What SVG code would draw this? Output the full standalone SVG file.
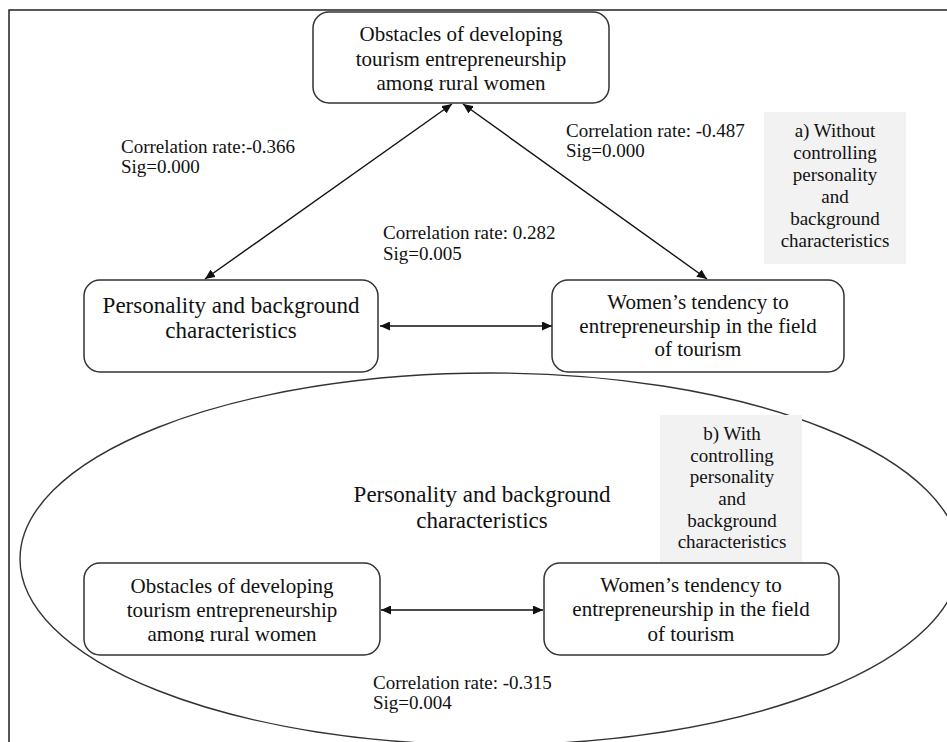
<svg xmlns="http://www.w3.org/2000/svg" width="947" height="742" viewBox="0 0 947 742">
<style>
.node{fill:#fff;stroke:#333;stroke-width:1.5}
.t{font-family:"Liberation Serif","Times New Roman",serif;font-size:21px;fill:#111;text-anchor:middle}
.t23{font-size:23px}
.lbl{font-family:"Liberation Serif","Times New Roman",serif;font-size:19px;fill:#111}
.note{fill:#f2f2f2;stroke:none}
.nt{font-family:"Liberation Serif","Times New Roman",serif;font-size:19px;fill:#111;text-anchor:middle}
.conn{stroke:#111;stroke-width:1.4;fill:none;marker-start:url(#ah);marker-end:url(#ah)}
</style>
<defs>
<marker id="ah" markerUnits="userSpaceOnUse" markerWidth="11" markerHeight="9" refX="10" refY="4.5" orient="auto-start-reverse">
<path d="M0,0 L10,4.5 L0,9 z" fill="#111"/>
</marker>
<clipPath id="c1"><rect x="313" y="12" width="296" height="79"/></clipPath>
<clipPath id="c2"><rect x="84" y="563" width="296" height="79"/></clipPath>
</defs>
<rect width="947" height="742" fill="#fff"/>
<path d="M947,10 H9 V742" fill="none" stroke="#222" stroke-width="1.5"/>

<g id="ellipse-context">
<ellipse cx="490" cy="559" rx="470" ry="186" fill="none" stroke="#333" stroke-width="1.4"/>
<text class="t t23" x="482" y="502">Personality and background</text>
<text class="t t23" x="482" y="528">characteristics</text>
</g>

<g id="connectors">
<line class="conn" x1="452" y1="104" x2="205" y2="279"/>
<line class="conn" x1="463" y1="104" x2="707" y2="279"/>
<line class="conn" x1="380" y1="326" x2="552" y2="326"/>
<line class="conn" x1="381" y1="610" x2="543" y2="610"/>
</g>

<g id="labels">
<text class="lbl" x="121" y="153">Correlation rate:-0.366</text>
<text class="lbl" x="121" y="173">Sig=0.000</text>
<text class="lbl" x="566" y="137">Correlation rate: -0.487</text>
<text class="lbl" x="566" y="157">Sig=0.000</text>
<text class="lbl" x="383" y="239">Correlation rate: 0.282</text>
<text class="lbl" x="383" y="260">Sig=0.005</text>
<text class="lbl" x="373" y="689">Correlation rate: -0.315</text>
<text class="lbl" x="373" y="709">Sig=0.004</text>
</g>

<g id="node-obstacles-top">
<rect class="node" x="313" y="12" width="296" height="91" rx="16"/>
<g clip-path="url(#c1)">
<text class="t" x="461" y="41">Obstacles of developing</text>
<text class="t" x="461" y="66">tourism entrepreneurship</text>
<text class="t" x="461" y="90">among rural women</text>
</g>
</g>

<g id="node-personality-top">
<rect class="node" x="84" y="280" width="294" height="92" rx="16"/>
<text class="t t23" x="231" y="313">Personality and background</text>
<text class="t t23" x="231" y="338">characteristics</text>
</g>

<g id="node-tendency-top">
<rect class="node" x="552" y="280" width="292" height="92" rx="16"/>
<text class="t" x="698" y="309">Women’s tendency to</text>
<text class="t" x="698" y="333">entrepreneurship in the field</text>
<text class="t" x="698" y="356">of tourism</text>
</g>

<g id="note-a">
<rect class="note" x="764" y="112" width="142" height="152"/>
<text class="nt" x="835" y="137">a) Without</text>
<text class="nt" x="835" y="159">controlling</text>
<text class="nt" x="835" y="181">personality</text>
<text class="nt" x="835" y="203">and</text>
<text class="nt" x="835" y="225">background</text>
<text class="nt" x="835" y="247">characteristics</text>
</g>

<g id="note-b">
<rect class="note" x="660" y="415" width="142" height="147"/>
<text class="nt" x="732" y="440">b) With</text>
<text class="nt" x="732" y="462">controlling</text>
<text class="nt" x="732" y="483">personality</text>
<text class="nt" x="732" y="505">and</text>
<text class="nt" x="732" y="527">background</text>
<text class="nt" x="732" y="548">characteristics</text>
</g>

<g id="node-obstacles-bottom">
<rect class="node" x="84" y="563" width="296" height="92" rx="16"/>
<g clip-path="url(#c2)">
<text class="t" x="232" y="593">Obstacles of developing</text>
<text class="t" x="232" y="617">tourism entrepreneurship</text>
<text class="t" x="232" y="641">among rural women</text>
</g>
</g>

<g id="node-tendency-bottom">
<rect class="node" x="544" y="563" width="295" height="92" rx="16"/>
<text class="t" x="691" y="592">Women’s tendency to</text>
<text class="t" x="691" y="616">entrepreneurship in the field</text>
<text class="t" x="691" y="641">of tourism</text>
</g>
</svg>
